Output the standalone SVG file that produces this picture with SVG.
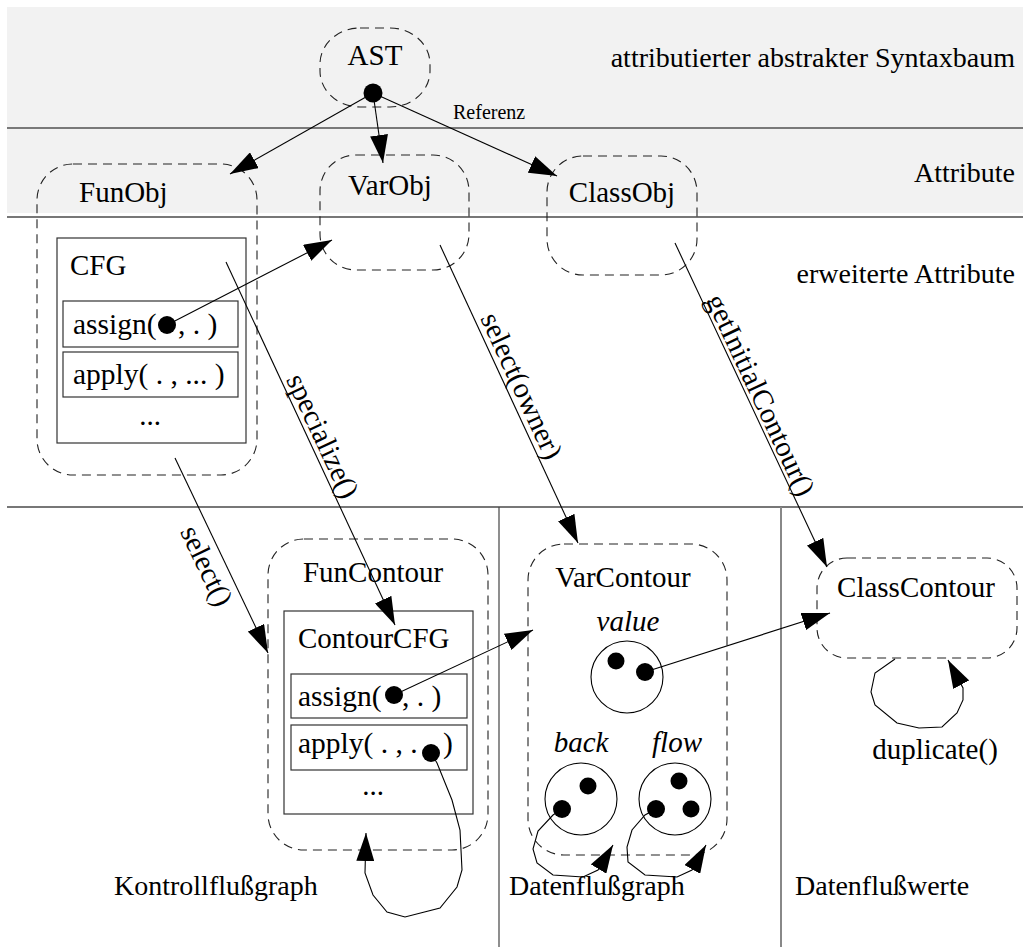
<svg xmlns="http://www.w3.org/2000/svg" width="1023" height="947" viewBox="0 0 1023 947">
  <style>
    text { font-family: "Liberation Serif", "Times New Roman", serif; font-size: 29px; fill: #000; }
    .band { font-size: 28px; }
    .inbox { font-size: 29.5px; }
    .it { font-style: italic; }
    .small { font-size: 20px; }
    .end { text-anchor: end; }
    .mid { text-anchor: middle; }
    .dash { fill: none; stroke: #222; stroke-width: 1.1; stroke-dasharray: 9 6; }
    .box { fill: none; stroke: #333; stroke-width: 1.2; }
    .edge { fill: none; stroke: #000; stroke-width: 1.1; marker-end: url(#head); }
    .dot { fill: #000; }
    .ring { fill: none; stroke: #000; stroke-width: 1.1; }
  </style>
  <defs>
    <marker id="head" viewBox="0 0 28 18" refX="28" refY="9" markerWidth="28" markerHeight="18" markerUnits="userSpaceOnUse" orient="auto">
      <path d="M0,0 L28,9 L0,18 z" fill="#000"/>
    </marker>
  </defs>

  <rect width="1023" height="947" fill="#fff"/>

  <!-- layer bands and separators -->
  <g id="layers">
    <rect x="7" y="7" width="1016" height="206" fill="#f2f2f2"/>
    <line x1="7" y1="128" x2="1023" y2="128" stroke="#000" stroke-width="1.2"/>
    <line x1="7" y1="217" x2="1023" y2="217" stroke="#777" stroke-width="2"/>
    <line x1="7" y1="507" x2="1023" y2="507" stroke="#777" stroke-width="2"/>
    <line x1="499" y1="507" x2="499" y2="947" stroke="#444" stroke-width="1.2"/>
    <line x1="781" y1="507" x2="781" y2="947" stroke="#888" stroke-width="2"/>
    <text x="1015" y="67" class="end band">attributierter abstrakter Syntaxbaum</text>
    <text x="1015" y="182" class="end band">Attribute</text>
    <text x="1015" y="283" class="end band">erweiterte Attribute</text>
    <text x="114" y="895" class="band">Kontrollflußgraph</text>
    <text x="509" y="895" class="band">Datenflußgraph</text>
    <text x="795" y="895" class="band">Datenflußwerte</text>
  </g>

  <g id="ast">
    <rect x="320" y="28" width="110" height="79" rx="40" ry="36" class="dash"/>
    <text x="375" y="65" class="mid">AST</text>
  </g>

  <g id="funobj">
    <rect x="37" y="164" width="220" height="311" rx="36" class="dash"/>
    <text x="79" y="202">FunObj</text>
    <rect x="57" y="238" width="189" height="205" class="box"/>
    <text x="70" y="275">CFG</text>
    <rect x="63" y="301" width="175" height="46" class="box"/>
    <text x="73" y="334" class="inbox">assign(<tspan x="178">, . )</tspan></text>
    <rect x="63" y="352" width="175" height="45" class="box"/>
    <text x="73" y="384" class="inbox">apply( . , ... )</text>
    <text x="150" y="425" class="mid">...</text>
  </g>

  <g id="varobj">
    <rect x="320" y="155" width="149" height="115" rx="36" class="dash"/>
    <text x="390" y="195" class="mid">VarObj</text>
  </g>

  <g id="classobj">
    <rect x="547" y="156" width="150" height="119" rx="36" class="dash"/>
    <text x="622" y="202" class="mid">ClassObj</text>
  </g>

  <g id="funcontour">
    <rect x="268" y="539" width="220" height="311" rx="36" class="dash"/>
    <text x="373" y="582" class="mid">FunContour</text>
    <rect x="284" y="611" width="189" height="203" class="box"/>
    <text x="298" y="648">ContourCFG</text>
    <rect x="291" y="674" width="176" height="44" class="box"/>
    <text x="298" y="706" class="inbox">assign(<tspan x="402">, . )</tspan></text>
    <rect x="291" y="725" width="176" height="45" class="box"/>
    <text x="298" y="753" class="inbox">apply( . , .<tspan x="443">)</tspan></text>
    <text x="373" y="795" class="mid">...</text>
  </g>

  <g id="varcontour">
    <rect x="528" y="544" width="199" height="311" rx="36" class="dash"/>
    <text x="623" y="587" class="mid">VarContour</text>
    <text x="628" y="631" class="mid it">value</text>
    <circle cx="627" cy="677" r="36" class="ring"/>
    <circle cx="616" cy="661" r="8.5" class="dot"/>
    <circle cx="645" cy="672" r="9" class="dot"/>
    <text x="581" y="752" class="mid it">back</text>
    <circle cx="581" cy="799" r="36" class="ring"/>
    <circle cx="588" cy="786" r="8.5" class="dot"/>
    <circle cx="562" cy="809" r="9" class="dot"/>
    <text x="677" y="752" class="mid it">flow</text>
    <circle cx="675" cy="799" r="36" class="ring"/>
    <circle cx="679" cy="781" r="8.5" class="dot"/>
    <circle cx="691" cy="809" r="8.5" class="dot"/>
    <circle cx="656" cy="809" r="9" class="dot"/>
  </g>

  <g id="classcontour">
    <rect x="817" y="558" width="200" height="100" rx="30" class="dash"/>
    <text x="916" y="597" class="mid">ClassContour</text>
    <text x="935" y="759" class="mid">duplicate()</text>
  </g>

  <g id="connectors">
    <!-- references from the AST node -->
    <circle cx="373" cy="93" r="9.5" class="dot"/>
    <line x1="373" y1="93" x2="230" y2="174" class="edge"/>
    <line x1="373" y1="93" x2="383" y2="163" class="edge"/>
    <line x1="373" y1="93" x2="557" y2="176" class="edge"/>
    <text x="453" y="119" class="small">Referenz</text>

    <!-- CFG assign target -->
    <circle cx="167" cy="325" r="9" class="dot"/>
    <line x1="167" y1="325" x2="332" y2="240" class="edge"/>

    <!-- specialize / select edges between layers -->
    <line x1="226" y1="262" x2="395" y2="625" class="edge"/>
    <text transform="translate(314,440) rotate(65)" class="mid">specialize()</text>

    <line x1="440" y1="245" x2="578" y2="543" class="edge"/>
    <text transform="translate(513,390) rotate(65.2)" class="mid">select(owner)</text>

    <line x1="675" y1="243" x2="827" y2="567" class="edge"/>
    <text transform="translate(752,399) rotate(64.9)" class="mid">getInitialContour()</text>

    <line x1="175" y1="458" x2="268" y2="653" class="edge"/>
    <text transform="translate(198,570) rotate(64.5)" class="mid">select()</text>

    <!-- contour CFG operands -->
    <circle cx="394" cy="695" r="9" class="dot"/>
    <line x1="394" y1="695" x2="533" y2="630" class="edge"/>
    <circle cx="431" cy="753" r="9" class="dot"/>
    <polyline points="431,753 437,763 452,800 460,830 462,870 457,887 440,908 405,917 387,912 373,895 365,873 366,833" class="edge"/>

    <!-- value to class contour -->
    <line x1="645" y1="672" x2="830" y2="613" class="edge"/>

    <!-- back / flow self loops -->
    <polyline points="562,809 553,815 538,831 533,849 537,863 553,875 583,877 598,870 613,845" class="edge"/>
    <polyline points="656,809 645,815 632,830 627,847 628,862 645,875 677,877 692,870 706,845" class="edge"/>

    <!-- duplicate() self loop -->
    <polyline points="895,659 875,673 871,692 875,705 897,723 919,728 942,727 957,713 963,700 963,688 948,660" class="edge"/>
  </g>
</svg>
